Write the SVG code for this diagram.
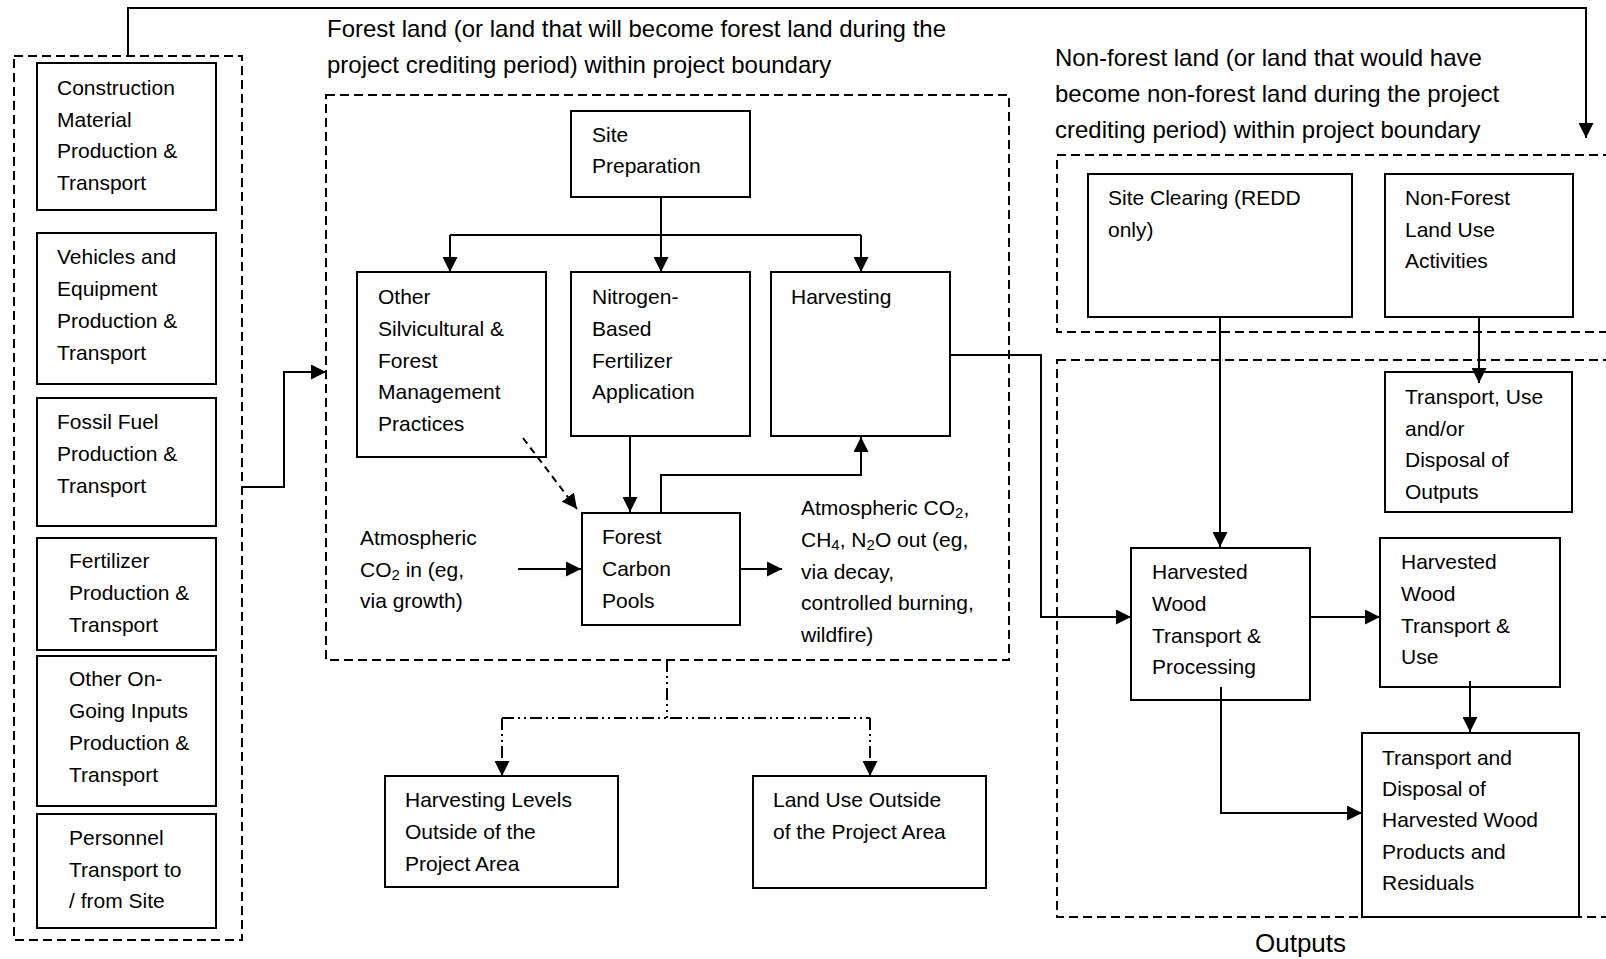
<svg xmlns="http://www.w3.org/2000/svg" width="1606" height="959" viewBox="0 0 1606 959">
<style>
text{font-family:"Liberation Sans",Arial,sans-serif;font-size:21px;fill:#000}
.title{font-size:24px}
.out{font-size:26px}
.box{fill:#fff;stroke:#000;stroke-width:2}
.dbox{fill:none;stroke:#000;stroke-width:2;stroke-dasharray:9 5}
.c{fill:none;stroke:#000;stroke-width:2}
.dash{stroke-dasharray:7 5}
.dd{stroke-dasharray:12 4 2 4 2 4}
</style>
<defs>
<marker id="ah" viewBox="0 0 15 15" refX="15" refY="7.5" markerWidth="15" markerHeight="15" markerUnits="userSpaceOnUse" orient="auto"><path d="M0,0 L15,7.5 L0,15 z" fill="#000"/></marker>
</defs>

<g id="boundaries">
<rect id="left-boundary" class="dbox" x="14" y="56" width="228" height="884"/>
<rect id="forest-boundary" class="dbox" x="326" y="95" width="683" height="565"/>
<rect id="nonforest-boundary" class="dbox" x="1057" y="155" width="600" height="177"/>
<rect id="outputs-boundary" class="dbox" x="1057" y="360" width="600" height="557"/>
</g>

<g id="labels">
<text class="title" x="327" y="37">Forest land (or land that will become forest land during the</text>
<text class="title" x="327" y="73">project crediting period) within project boundary</text>
<text class="title" x="1055" y="66">Non-forest land (or land that would have</text>
<text class="title" x="1055" y="102">become non-forest land during the project</text>
<text class="title" x="1055" y="138">crediting period) within project boundary</text>
<text class="out" x="1255" y="952">Outputs</text>
</g>

<g id="construction">
<rect class="box" x="37" y="63" width="179" height="147"/>
<text x="57" y="95">Construction</text>
<text x="57" y="127">Material</text>
<text x="57" y="158">Production &amp;</text>
<text x="57" y="190">Transport</text>
</g>
<g id="vehicles">
<rect class="box" x="37" y="233" width="179" height="151"/>
<text x="57" y="264">Vehicles and</text>
<text x="57" y="296">Equipment</text>
<text x="57" y="328">Production &amp;</text>
<text x="57" y="360">Transport</text>
</g>
<g id="fossil-fuel">
<rect class="box" x="37" y="398" width="179" height="128"/>
<text x="57" y="429">Fossil Fuel</text>
<text x="57" y="461">Production &amp;</text>
<text x="57" y="493">Transport</text>
</g>
<g id="fertilizer">
<rect class="box" x="37" y="538" width="179" height="112"/>
<text x="69" y="568">Fertilizer</text>
<text x="69" y="600">Production &amp;</text>
<text x="69" y="632">Transport</text>
</g>
<g id="other-inputs">
<rect class="box" x="37" y="656" width="179" height="150"/>
<text x="69" y="686">Other On-</text>
<text x="69" y="718">Going Inputs</text>
<text x="69" y="750">Production &amp;</text>
<text x="69" y="782">Transport</text>
</g>
<g id="personnel">
<rect class="box" x="37" y="814" width="179" height="114"/>
<text x="69" y="845">Personnel</text>
<text x="69" y="877">Transport to</text>
<text x="69" y="908">/ from Site</text>
</g>

<g id="site-preparation">
<rect class="box" x="571" y="111" width="179" height="86"/>
<text x="592" y="142">Site</text>
<text x="592" y="173">Preparation</text>
</g>
<g id="other-silvicultural">
<rect class="box" x="357" y="272" width="189" height="185"/>
<text x="378" y="304">Other</text>
<text x="378" y="336">Silvicultural &amp;</text>
<text x="378" y="368">Forest</text>
<text x="378" y="399">Management</text>
<text x="378" y="431">Practices</text>
</g>
<g id="nitrogen">
<rect class="box" x="571" y="272" width="179" height="164"/>
<text x="592" y="304">Nitrogen-</text>
<text x="592" y="336">Based</text>
<text x="592" y="368">Fertilizer</text>
<text x="592" y="399">Application</text>
</g>
<g id="harvesting">
<rect class="box" x="771" y="272" width="179" height="164"/>
<text x="791" y="304">Harvesting</text>
</g>
<g id="forest-carbon-pools">
<rect class="box" x="582" y="513" width="158" height="112"/>
<text x="602" y="544">Forest</text>
<text x="602" y="576">Carbon</text>
<text x="602" y="608">Pools</text>
</g>
<g id="atmospheric-in">
<text x="360" y="545">Atmospheric</text>
<text x="360" y="577">CO<tspan font-size="15" dy="3">2</tspan><tspan dy="-3"> in (eg,</tspan></text>
<text x="360" y="608">via growth)</text>
</g>
<g id="atmospheric-out">
<text x="801" y="515">Atmospheric CO<tspan font-size="15" dy="3">2</tspan><tspan dy="-3">,</tspan></text>
<text x="801" y="547">CH<tspan font-size="15" dy="3">4</tspan><tspan dy="-3">, N</tspan><tspan font-size="15" dy="3">2</tspan><tspan dy="-3">O out (eg,</tspan></text>
<text x="801" y="579">via decay,</text>
<text x="801" y="610">controlled burning,</text>
<text x="801" y="642">wildfire)</text>
</g>
<g id="harvesting-levels-outside">
<rect class="box" x="385" y="776" width="233" height="111"/>
<text x="405" y="807">Harvesting Levels</text>
<text x="405" y="839">Outside of the</text>
<text x="405" y="871">Project Area</text>
</g>
<g id="land-use-outside">
<rect class="box" x="753" y="776" width="233" height="112"/>
<text x="773" y="807">Land Use Outside</text>
<text x="773" y="839">of the Project Area</text>
</g>

<g id="site-clearing">
<rect class="box" x="1088" y="174" width="264" height="143"/>
<text x="1108" y="205">Site Clearing (REDD</text>
<text x="1108" y="237">only)</text>
</g>
<g id="non-forest-land-use">
<rect class="box" x="1385" y="174" width="188" height="143"/>
<text x="1405" y="205">Non-Forest</text>
<text x="1405" y="237">Land Use</text>
<text x="1405" y="268">Activities</text>
</g>
<g id="transport-use-disposal">
<rect class="box" x="1385" y="372" width="187" height="140"/>
<text x="1405" y="404">Transport, Use</text>
<text x="1405" y="436">and/or</text>
<text x="1405" y="467">Disposal of</text>
<text x="1405" y="499">Outputs</text>
</g>
<g id="hw-transport-processing">
<rect class="box" x="1131" y="548" width="179" height="152"/>
<text x="1152" y="579">Harvested</text>
<text x="1152" y="611">Wood</text>
<text x="1152" y="643">Transport &amp;</text>
<text x="1152" y="674">Processing</text>
</g>
<g id="hw-transport-use">
<rect class="box" x="1380" y="538" width="180" height="149"/>
<text x="1401" y="569">Harvested</text>
<text x="1401" y="601">Wood</text>
<text x="1401" y="633">Transport &amp;</text>
<text x="1401" y="664">Use</text>
</g>
<g id="transport-disposal-hwp">
<rect class="box" x="1362" y="733" width="217" height="184"/>
<text x="1382" y="765">Transport and</text>
<text x="1382" y="796">Disposal of</text>
<text x="1382" y="827">Harvested Wood</text>
<text x="1382" y="859">Products and</text>
<text x="1382" y="890">Residuals</text>
</g>

<g id="connectors">
<path class="c" d="M128,56 V8 H1586 V138" marker-end="url(#ah)"/>
<path class="c" d="M242,487 H284 V372 H326" marker-end="url(#ah)"/>
<path class="c" d="M661,197 V272" marker-end="url(#ah)"/>
<path class="c" d="M450,235 H861"/>
<path class="c" d="M450,235 V272" marker-end="url(#ah)"/>
<path class="c" d="M861,235 V272" marker-end="url(#ah)"/>
<path class="c" d="M630,436 V512" marker-end="url(#ah)"/>
<path class="c" d="M661,513 V475 H861 V437" marker-end="url(#ah)"/>
<path class="c dash" d="M523,438 L577,509" marker-end="url(#ah)"/>
<path class="c" d="M518,569 H581" marker-end="url(#ah)"/>
<path class="c" d="M740,569 H782" marker-end="url(#ah)"/>
<path class="c" d="M950,355 H1041 V617 H1131" marker-end="url(#ah)"/>
<path class="c" d="M1220,317 V547" marker-end="url(#ah)"/>
<path class="c" d="M1479,317 V383" marker-end="url(#ah)"/>
<path class="c" d="M1310,617 H1380" marker-end="url(#ah)"/>
<path class="c" d="M1470,681 V732" marker-end="url(#ah)"/>
<path class="c" d="M1221,687 V813 H1362" marker-end="url(#ah)"/>
<path class="c dd" d="M667,660 V718"/>
<path class="c dd" d="M502,718 H870"/>
<path class="c dd" d="M502,718 V776" marker-end="url(#ah)"/>
<path class="c dd" d="M870,718 V776" marker-end="url(#ah)"/>
</g>
</svg>
